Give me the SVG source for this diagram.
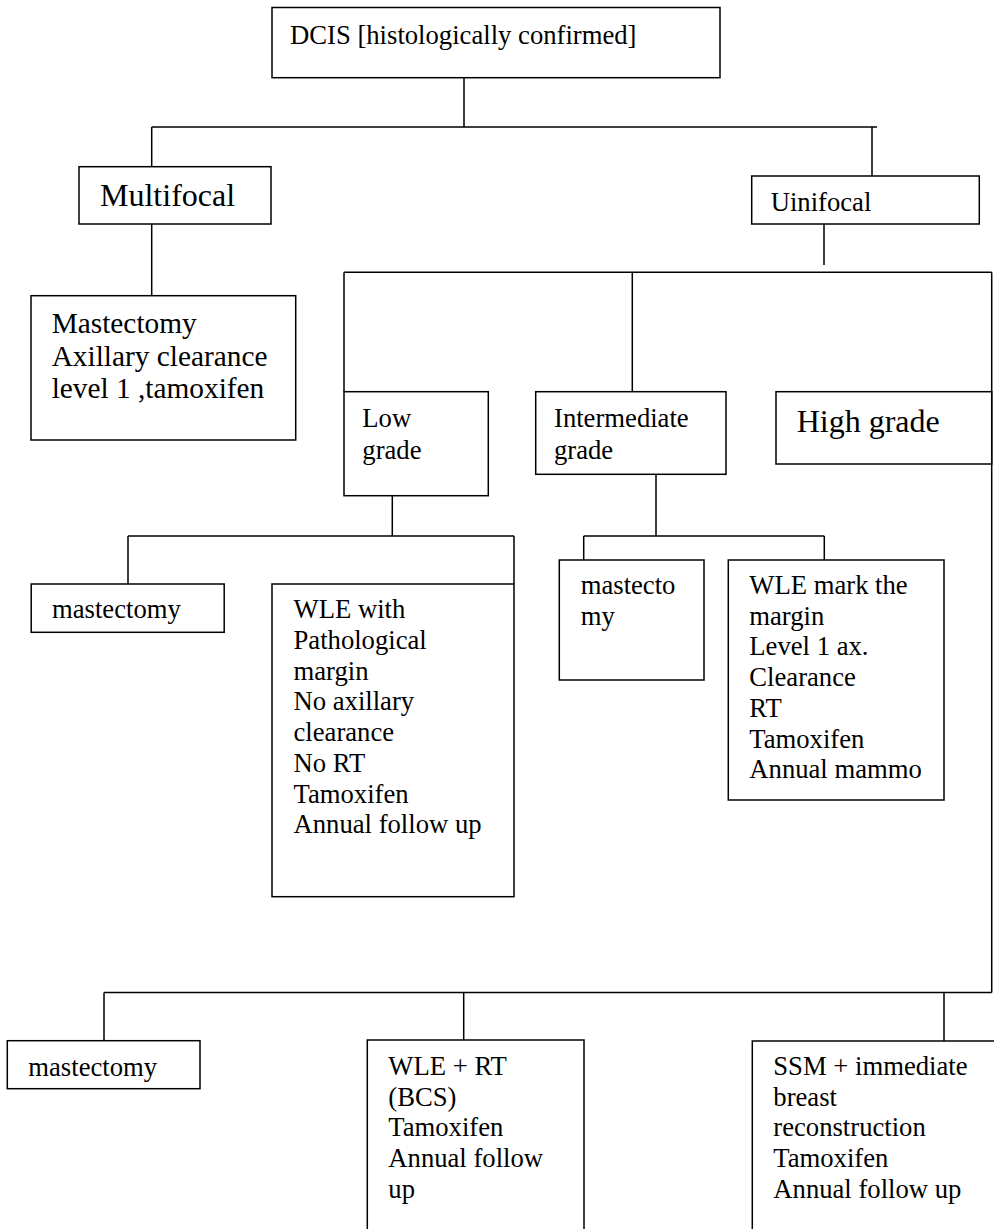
<svg xmlns="http://www.w3.org/2000/svg" width="994" height="1229" viewBox="0 0 994 1229">
<style>
.box{fill:#fff;stroke:#000;stroke-width:1.5}
.ln{fill:none;stroke:#000;stroke-width:1.5}
text{font-family:"Liberation Serif","Times New Roman",serif;fill:#000;font-size:26.67px}
.big{font-size:32px}
.mid{font-size:29.33px}
</style>
<rect width="994" height="1229" fill="#fff"/>
<g id="connectors">
<path class="ln" d="M464,78 V127 M151.7,127 H877 M151.7,127 V166.7 M872,127 V176"/>
<path class="ln" d="M151.7,224 V295.7"/>
<path class="ln" d="M824,224 V265 M344,272.3 H991.7 M344,272.3 V391.7 M632.3,272.3 V391.7 M991.7,272.3 V992.5"/>
<path class="ln" d="M392.3,487.7 V536 M128,536 H514 M128,536 V584 M514,536 V584"/>
<path class="ln" d="M656,464.3 V536 M583.7,536 H824.3 M583.7,536 V560 M824.3,536 V560"/>
<path class="ln" d="M104,992.5 H991.7 M104,992.5 V1040.7 M463.7,992.5 V1040 M944,992.5 V1041"/>
</g>
<g id="dcis"><rect class="box" x="272" y="7.5" width="448" height="70.2"/><text x="290" y="44.3">DCIS [histologically confirmed]</text></g>
<g id="multifocal"><rect class="box" x="79" y="166.7" width="192" height="57.3"/><text class="big" x="100" y="206">Multifocal</text></g>
<g id="mastectomy-multi"><rect class="box" x="31" y="295.7" width="264.7" height="144.3"/><text class="mid" x="51.7"><tspan x="51.7" y="333.3">Mastectomy</tspan><tspan x="51.7" y="366">Axillary clearance</tspan><tspan x="51.7" y="398.3">level 1 ,tamoxifen</tspan></text></g>
<g id="unifocal"><rect class="box" x="751.7" y="176" width="227.6" height="48"/><text x="770.7" y="210.7">Uinifocal</text></g>
<g id="low-grade"><rect class="box" x="344" y="391.7" width="144.3" height="104"/><text><tspan x="362.3" y="426.7">Low</tspan><tspan x="362.3" y="459">grade</tspan></text></g>
<g id="intermediate-grade"><rect class="box" x="535.7" y="391.7" width="190.3" height="82.6"/><text><tspan x="554" y="426.7">Intermediate</tspan><tspan x="554" y="459">grade</tspan></text></g>
<g id="high-grade"><rect class="box" x="776" y="391.7" width="215.7" height="72.3"/><text class="big" x="796.7" y="431.7">High grade</text></g>
<g id="low-mastectomy"><rect class="box" x="31.2" y="584" width="193" height="48.3"/><text x="52" y="618.3">mastectomy</text></g>
<g id="low-wle"><rect class="box" x="272" y="584" width="242" height="312.7"/><text><tspan x="293.5" y="618.3">WLE with</tspan><tspan x="293.5" y="649">Pathological</tspan><tspan x="293.5" y="679.7">margin</tspan><tspan x="293.5" y="710.4">No axillary</tspan><tspan x="293.5" y="741.1">clearance</tspan><tspan x="293.5" y="771.8">No RT</tspan><tspan x="293.5" y="802.5">Tamoxifen</tspan><tspan x="293.5" y="833.2">Annual follow up</tspan></text></g>
<g id="int-mastectomy"><rect class="box" x="559.3" y="560" width="144.7" height="120"/><text><tspan x="580.7" y="594">mastecto</tspan><tspan x="580.7" y="624.7">my</tspan></text></g>
<g id="int-wle"><rect class="box" x="728.3" y="560" width="215.7" height="240"/><text><tspan x="749.3" y="594">WLE mark the</tspan><tspan x="749.3" y="624.7">margin</tspan><tspan x="749.3" y="655.4">Level 1 ax.</tspan><tspan x="749.3" y="686.1">Clearance</tspan><tspan x="749.3" y="716.8">RT</tspan><tspan x="749.3" y="747.5">Tamoxifen</tspan><tspan x="749.3" y="778.2">Annual mammo</tspan></text></g>
<g id="high-mastectomy"><rect class="box" x="7.3" y="1040.7" width="192.7" height="48"/><text x="28.3" y="1075.7">mastectomy</text></g>
<g id="high-wle"><rect class="box" x="367.3" y="1040" width="216.7" height="220"/><text><tspan x="388.3" y="1075">WLE + RT</tspan><tspan x="388.3" y="1105.7">(BCS)</tspan><tspan x="388.3" y="1136.4">Tamoxifen</tspan><tspan x="388.3" y="1167.1">Annual follow</tspan><tspan x="388.3" y="1197.8">up</tspan></text></g>
<g id="high-ssm"><rect class="box" x="752.3" y="1041" width="260" height="220"/><text><tspan x="773.3" y="1075">SSM + immediate</tspan><tspan x="773.3" y="1105.7">breast</tspan><tspan x="773.3" y="1136.4">reconstruction</tspan><tspan x="773.3" y="1167.1">Tamoxifen</tspan><tspan x="773.3" y="1197.8">Annual follow up</tspan></text></g>
</svg>
